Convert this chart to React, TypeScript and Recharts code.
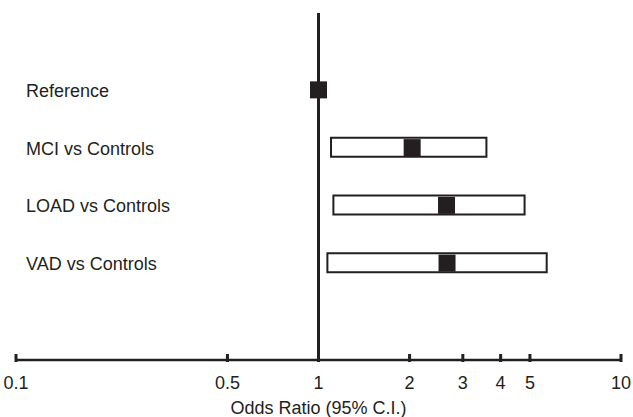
import React from 'react';
import { ComposedChart, Bar, Scatter, XAxis, YAxis, ReferenceLine } from 'recharts';

// rows of the forest plot, top to bottom
const groups = ['Reference', 'MCI vs Controls', 'LOAD vs Controls', 'VAD vs Controls'];
const oddsRatios = [1, 2.04, 2.65, 2.66];
const ciLow = [null, 1.1, 1.12, 1.07];
const ciHigh = [null, 3.59, 4.8, 5.68];
const xTicks = [0.1, 0.5, 1, 2, 3, 4, 5, 10];

const data = groups.map((name, i) => ({
  name,
  or: oddsRatios[i],
  ci: ciLow[i] == null ? null : [ciLow[i], ciHigh[i]],
}));

const INK = '#231f20';
const FONT = '"Liberation Sans", Arial, Helvetica, sans-serif';

const XTick = (props: any) => {
  const { x, y, payload } = props;
  return (
    <g>
      <line x1={x} x2={x} y1={y - 8} y2={y} stroke={INK} strokeWidth={3} />
      <text x={x} y={y + 27} textAnchor="middle" fontSize={18} fill={INK} fontFamily={FONT}>
        {payload.value}
      </text>
    </g>
  );
};

const YTick = (props: any) => {
  const { x, y, payload } = props;
  return (
    <text x={x + 12} y={y + 7} textAnchor="start" fontSize={18} fill={INK} fontFamily={FONT}>
      {payload.value}
    </text>
  );
};

const Square = (props: any) => {
  const { cx, cy } = props;
  return <rect x={cx - 8.5} y={cy - 8.5} width={17} height={17} fill={INK} />;
};

export default function App() {
  return (
    <div style={{ position: 'fixed', left: 0, top: 0, background: '#fff', fontFamily: FONT }}>
      <ComposedChart
        width={633}
        height={417}
        data={data}
        layout="vertical"
        margin={{ top: 13, right: 12, bottom: 0, left: 6 }}
      >
        <XAxis
          type="number"
          scale="log"
          domain={[0.1, 10]}
          ticks={xTicks}
          interval={0}
          allowDataOverflow
          height={57}
          tickSize={0}
          tickLine={false}
          axisLine={{ stroke: INK, strokeWidth: 2.5 }}
          tick={<XTick />}
          label={{
            value: 'Odds Ratio (95% C.I.)',
            position: 'insideBottom',
            offset: 3,
            fill: INK,
            fontSize: 18,
            fontFamily: FONT,
          }}
        />
        <YAxis
          type="category"
          dataKey="name"
          width={10}
          interval={0}
          axisLine={false}
          tickLine={false}
          tickSize={0}
          padding={{ top: 48, bottom: 68 }}
          tick={<YTick />}
        />
        <ReferenceLine x={1} stroke={INK} strokeWidth={3} />
        <Bar
          dataKey="ci"
          fill="#fff"
          stroke={INK}
          strokeWidth={2}
          barSize={19}
          isAnimationActive={false}
        />
        <Scatter dataKey="or" fill={INK} shape={<Square />} isAnimationActive={false} />
      </ComposedChart>
    </div>
  );
}
